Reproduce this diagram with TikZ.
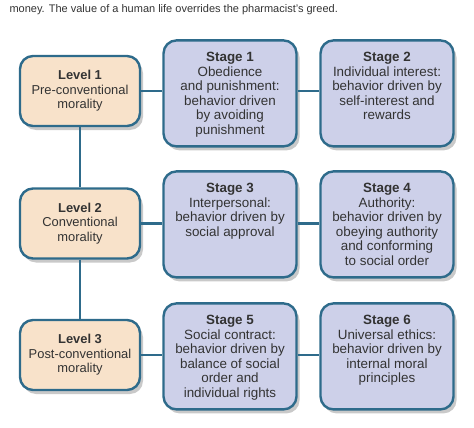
\documentclass[tikz,border=0pt]{standalone}
\usepackage{fontspec}
\setmainfont{Liberation Sans}
\usetikzlibrary{positioning, shadows}
\definecolor{frameTeal}{HTML}{2E6B8B}
\definecolor{levelPeach}{HTML}{F8E2CA}
\definecolor{stageLilac}{HTML}{CDD0E9}
\definecolor{inkGray}{HTML}{333333}
\newcommand{\stagetxt}[1]{\parbox[t][82pt][t]{131pt}{\centering #1}}

\begin{document}
\begin{tikzpicture}[x=1pt, y=-1pt,
    levelbox/.style={draw=frameTeal, line width=2.4pt, rounded corners=13pt, fill=levelPeach,
      minimum width=120pt, minimum height=70pt, align=center, text=inkGray,
      font=\fontsize{12.9}{14.4}\selectfont,
      drop shadow={shadow xshift=3pt, shadow yshift=-4pt, opacity=.3, fill=black!70}},
    stagebox/.style={draw=frameTeal, line width=2.4pt, rounded corners=13pt, fill=stageLilac,
      anchor=north, minimum width=133pt, inner xsep=1pt, inner ysep=12pt, text=inkGray,
      font=\fontsize{13.4}{14.5}\selectfont,
      drop shadow={shadow xshift=3pt, shadow yshift=-4pt, opacity=.3, fill=black!70}},
    link/.style={draw=frameTeal, line width=2.4pt},
  ]
    \useasboundingbox (0,0) rectangle (474,428);

    \node[anchor=base west, text=inkGray, font=\fontsize{11}{13}\selectfont] (caption) at (6,12.5)
      {money. The value of a human life overrides the pharmacist's greed.};

    % levels
    \node[levelbox] (lv1) at (80,91)    {\textbf{Level 1}\\Pre-conventional\\morality};
    \node[levelbox] (lv2) at (80,223.5) {\textbf{Level 2}\\Conventional\\morality};
    \node[levelbox] (lv3) at (80,355)   {\textbf{Level 3}\\Post-conventional\\morality};

    % stages
    \node[stagebox] (st1) at (230,39.2)  {\stagetxt{\textbf{Stage 1}\\Obedience\\and punishment:\\behavior driven\\by avoiding\\punishment}};
    \node[stagebox] (st2) at (387,39.2)  {\stagetxt{\textbf{Stage 2}\\Individual interest:\\behavior driven by\\self-interest and\\rewards}};
    \node[stagebox] (st3) at (230,170.2) {\stagetxt{\textbf{Stage 3}\\Interpersonal:\\behavior driven by\\social approval}};
    \node[stagebox] (st4) at (387,170.2) {\stagetxt{\textbf{Stage 4}\\Authority:\\behavior driven by\\obeying authority\\and conforming\\to social order}};
    \node[stagebox] (st5) at (230,302.2) {\stagetxt{\textbf{Stage 5}\\Social contract:\\behavior driven by\\balance of social\\order and\\individual rights}};
    \node[stagebox] (st6) at (387,302.2) {\stagetxt{\textbf{Stage 6}\\Universal ethics:\\behavior driven by\\internal moral\\principles}};

    \draw[link] (lv1) -- (lv2);
    \draw[link] (lv2) -- (lv3);
    \draw[link] (lv1.east) -- (lv1.east -| st1.west);
    \draw[link] (lv2.east) -- (lv2.east -| st3.west);
    \draw[link] (lv3.east) -- (lv3.east -| st5.west);
    \draw[link] (lv1.east -| st1.east) -- (lv1.east -| st2.west);
    \draw[link] (lv2.east -| st3.east) -- (lv2.east -| st4.west);
    \draw[link] (lv3.east -| st5.east) -- (lv3.east -| st6.west);
  \end{tikzpicture}
\end{document}
